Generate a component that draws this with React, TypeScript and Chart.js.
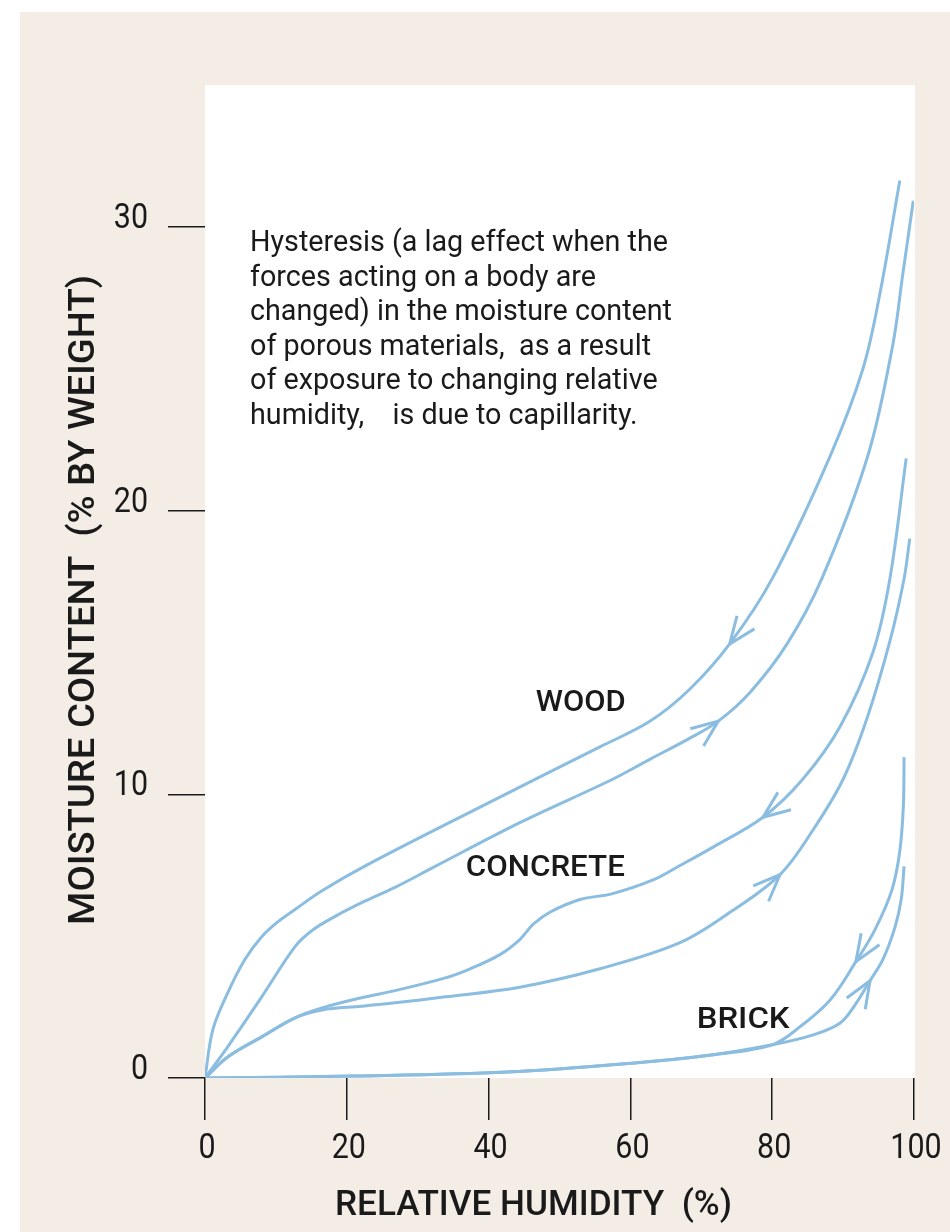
import React, { useEffect, useRef } from 'react';
import { Chart, registerables } from 'chart.js';

Chart.register(...registerables);

// ---- axis ticks ----
const xTickValues = [0, 20, 40, 60, 80, 100];
const xTickLabels = ['0', '20', '40', '60', '80', '100'];
const yTickValues = [0, 10, 20, 30];
const yTickLabels = ['0', '10', '20', '30'];

// ---- curves: [relative humidity %, moisture content %] ----
const woodDesorption: [number, number][] = [
  [0, 0], [1.1, 1.7], [3.2, 3.0], [5.6, 4.17], [8.0, 4.98], [10.3, 5.51], [12.7, 5.94],
  [16.5, 6.6], [23.0, 7.53], [38.8, 9.55], [55.7, 11.67], [62.8, 12.58], [68.4, 13.71],
  [74.0, 15.3], [80.0, 17.6], [88.2, 21.94], [92.8, 25.0], [95.2, 27.66], [98.0, 31.63],
];
const woodAdsorption: [number, number][] = [
  [0, 0], [3.2, 1.1], [8.0, 2.86], [12.7, 4.63], [15.1, 5.2], [18.3, 5.69], [22.1, 6.18],
  [26.8, 6.72], [32.4, 7.45], [44.4, 9.0], [57.5, 10.53], [62.8, 11.24], [68.4, 11.98],
  [72.4, 12.58], [76.9, 13.6], [82.1, 15.3], [87.0, 17.6], [93.5, 21.94], [97.0, 25.83],
  [98.4, 28.3], [99.9, 30.92],
];
const concreteDesorption: [number, number][] = [
  [0, 0], [3.2, 0.74], [8.0, 1.45], [12.7, 2.12], [16.5, 2.47], [22.1, 2.83], [26.8, 3.08],
  [33.9, 3.53], [37.4, 3.85], [41.6, 4.35], [44.4, 4.88], [46.3, 5.42], [48.7, 5.85],
  [52.9, 6.29], [57.5, 6.5], [63.2, 6.98], [67.0, 7.49], [71.6, 8.13], [78.7, 9.19],
  [84.3, 10.53], [89.6, 12.4], [94.2, 15.0], [96.6, 17.6], [98.9, 21.84],
];
const concreteAdsorption: [number, number][] = [
  [0, 0], [3.2, 0.74], [8.0, 1.45], [12.7, 2.12], [16.5, 2.4], [22.1, 2.53], [26.8, 2.65],
  [33.9, 2.86], [44.4, 3.2], [55.7, 3.85], [67.0, 4.77], [74.0, 5.83], [81.1, 7.17],
  [85.8, 8.76], [90.0, 10.53], [93.4, 12.7], [96.6, 15.4], [98.6, 17.6], [99.4, 19.01],
];
const brickDesorption: [number, number][] = [
  [0, 0], [21.0, 0.07], [42.6, 0.21], [60.6, 0.53], [71.4, 0.81], [80.0, 1.17], [83.9, 1.8],
  [88.2, 2.76], [91.8, 4.1], [94.5, 5.23], [96.9, 6.64], [98.0, 8.0], [98.5, 9.6], [98.6, 11.31],
];
const brickAdsorption: [number, number][] = [
  [0, 0], [21.0, 0.07], [42.6, 0.21], [60.6, 0.53], [71.4, 0.81], [80.0, 1.17], [85.8, 1.52],
  [89.6, 1.94], [91.7, 2.58], [93.8, 3.43], [95.6, 4.17], [97.3, 5.3], [98.2, 6.3], [98.6, 7.46],
];

const curveNames = ['Wood (drying)', 'Wood (wetting)', 'Concrete (drying)', 'Concrete (wetting)', 'Brick (drying)', 'Brick (wetting)'];
const curveData = [woodDesorption, woodAdsorption, concreteDesorption, concreteAdsorption, brickDesorption, brickAdsorption];
// x value of the arrow tip on each curve, and direction of travel (+1 wetting, -1 drying)
const arrowTipX = [74.0, 72.4, 78.7, 81.1, 91.8, 93.8];
const travelDir = [-1, 1, -1, 1, -1, 1];

// ---- text ----
const materialLabels = ['WOOD', 'CONCRETE', 'BRICK'];
const materialLabelAt: [number, number][] = [[53.0, 13.3], [48.0, 7.5], [75.9, 2.12]];
const noteLines = [
  'Hysteresis (a lag effect when the',
  'forces acting on a body are',
  'changed) in the moisture content',
  'of porous materials,  as a result',
  'of exposure to changing relative',
  'humidity,    is due to capillarity.',
];
const xTitle = 'RELATIVE HUMIDITY  (%)';
const yTitle = 'MOISTURE CONTENT  (% BY WEIGHT)';

const LINE = '#8bbde1';
const BEIGE = '#f4ede6';
const INK = '#1a1a1a';
const FONT = 'Roboto, "DejaVu Sans", sans-serif';

function fitText(ctx: CanvasRenderingContext2D, text: string, x: number, y: number, width: number, align: CanvasTextAlign) {
  const w = ctx.measureText(text).width;
  const k = width / w;
  ctx.save();
  ctx.translate(x, y);
  ctx.scale(k, 1);
  ctx.textAlign = align;
  ctx.fillText(text, 0, 0);
  ctx.restore();
}

const backgroundPlugin = {
  id: 'bg',
  beforeDraw(chart: any) {
    const { ctx, chartArea: ca } = chart;
    ctx.save();
    ctx.fillStyle = '#ffffff';
    ctx.fillRect(0, 0, chart.width, chart.height);
    ctx.fillStyle = BEIGE;
    ctx.fillRect(20, 12, chart.width - 20, chart.height - 12);
    ctx.fillStyle = '#ffffff';
    ctx.fillRect(ca.left, ca.top, ca.right - ca.left + 1, ca.bottom - ca.top);
    ctx.restore();
  },
};

const decorPlugin = {
  id: 'decor',
  afterDatasetsDraw(chart: any) {
    const ctx: CanvasRenderingContext2D = chart.ctx;
    ctx.save();
    ctx.strokeStyle = LINE;
    ctx.lineWidth = 3;
    chart.data.datasets.forEach((ds: any, di: number) => {
      const pts = chart.getDatasetMeta(di).data;
      const idx = ds.data.findIndex((p: any) => p.x === ds.arrowX);
      if (idx < 1 || idx >= pts.length - 1) return;
      const tip = pts[idx], prev = pts[idx - 1], next = pts[idx + 1];
      const tx = next.x - prev.x, ty = next.y - prev.y;
      const ang = Math.atan2(-ds.travel * ty, -ds.travel * tx);
      const L = 29, half = (22 * Math.PI) / 180;
      ctx.beginPath();
      ctx.moveTo(tip.x + L * Math.cos(ang - half), tip.y + L * Math.sin(ang - half));
      ctx.lineTo(tip.x, tip.y);
      ctx.lineTo(tip.x + L * Math.cos(ang + half), tip.y + L * Math.sin(ang + half));
      ctx.stroke();
    });
    ctx.restore();
  },
  afterDraw(chart: any) {
    const ctx: CanvasRenderingContext2D = chart.ctx;
    const xs = chart.scales.x, ys = chart.scales.y;
    ctx.save();
    ctx.fillStyle = INK;
    ctx.textBaseline = 'alphabetic';

    // tick labels (condensed digits)
    ctx.font = `400 35px ${FONT}`;
    xTickValues.forEach((v, i) => {
      const px = xs.getPixelForValue(v);
      const w = ctx.measureText(xTickLabels[i]).width * 0.87;
      fitText(ctx, xTickLabels[i], px + 2, 1158, w, 'center');
    });
    yTickValues.forEach((v, i) => {
      const py = ys.getPixelForValue(v);
      const w = ctx.measureText(yTickLabels[i]).width * 0.87;
      fitText(ctx, yTickLabels[i], 148, py + 1, w, 'right');
    });

    // axis titles
    ctx.font = `500 35px ${FONT}`;
    fitText(ctx, xTitle, 335, 1215, 397, 'left');
    ctx.save();
    ctx.translate(94, 925);
    ctx.rotate(-Math.PI / 2);
    ctx.font = `500 36px ${FONT}`;
    fitText(ctx, yTitle, 0, 0, 650, 'left');
    ctx.restore();

    // note
    ctx.font = `400 30px ${FONT}`;
    const k = 418 / ctx.measureText(noteLines[0]).width;
    noteLines.forEach((line, i) => {
      const w = ctx.measureText(line).width * k;
      fitText(ctx, line, 250, 251 + i * 34.6, w, 'left');
    });

    // material labels
    ctx.font = `500 29.5px ${FONT}`;
    const widths = [90, 159, 93];
    materialLabels.forEach((t, i) => {
      const [vx, vy] = materialLabelAt[i];
      fitText(ctx, t, xs.getPixelForValue(vx), ys.getPixelForValue(vy) + 10.5, widths[i], 'center');
    });
    ctx.restore();
  },
};

export default function App() {
  const ref = useRef<HTMLCanvasElement>(null);
  useEffect(() => {
    document.body.style.margin = '0';
    const canvas = ref.current!;
    const chart = new Chart(canvas, {
      type: 'line',
      data: {
        datasets: curveData.map((pts, i) => ({
          label: curveNames[i],
          data: pts.map(([x, y]) => ({ x, y })),
          borderColor: LINE,
          borderWidth: 3,
          pointRadius: 0,
          fill: false,
          tension: 0.35,
          arrowX: arrowTipX[i],
          travel: travelDir[i],
        })) as any,
      },
      options: {
        responsive: false,
        animation: false,
        devicePixelRatio: 1,
        layout: { padding: { left: 0, top: 85, right: 36, bottom: 0 } },
        plugins: { legend: { display: false }, tooltip: { enabled: false } },
        scales: {
          x: {
            type: 'linear',
            min: 0,
            max: 100,
            position: 'bottom',
            afterBuildTicks: (s: any) => { s.ticks = xTickValues.map((v) => ({ value: v })); },
            afterFit: (s: any) => { s.height = 154; },
            grid: { drawOnChartArea: false, drawTicks: true, tickLength: 42, color: INK, lineWidth: 1.5 },
            border: { display: false },
            ticks: { display: false },
          },
          y: {
            type: 'linear',
            min: 0,
            max: 35,
            position: 'left',
            afterBuildTicks: (s: any) => { s.ticks = yTickValues.map((v) => ({ value: v })); },
            afterFit: (s: any) => { s.width = 205; },
            grid: { drawOnChartArea: false, drawTicks: true, tickLength: 37, color: INK, lineWidth: 1.5 },
            border: { display: false },
            ticks: { display: false },
          },
        },
      } as any,
      plugins: [backgroundPlugin, decorPlugin],
    });
    return () => chart.destroy();
  }, []);
  return (
    <div style={{ width: 950, height: 1232 }}>
      <canvas ref={ref} width={950} height={1232} style={{ display: 'block' }} />
    </div>
  );
}
